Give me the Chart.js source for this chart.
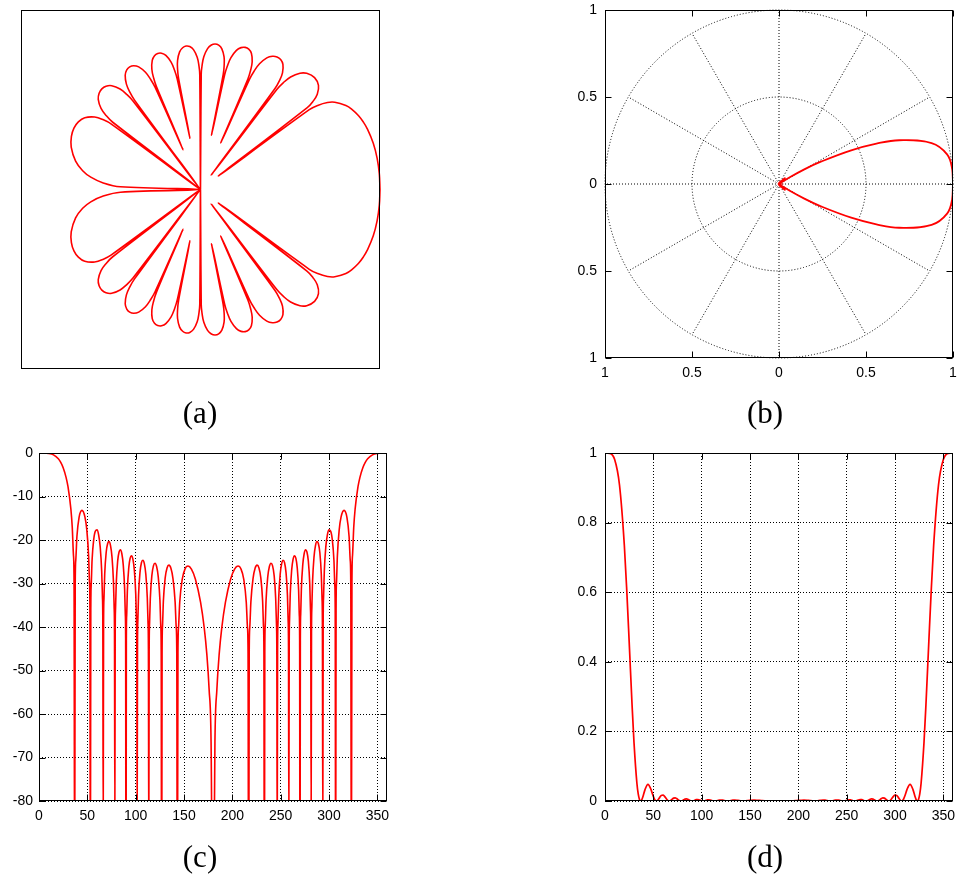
<!DOCTYPE html>
<html>
<head>
<meta charset="utf-8">
<title>Array pattern</title>
<script src="https://cdn.jsdelivr.net/npm/chart.js@4.4.1/dist/chart.umd.min.js"></script>
<style>
  html, body { margin: 0; background: #fff; }
  body { position: relative; width: 958px; height: 879px; overflow: hidden; }
  canvas { position: absolute; }
  .cap {
    position: absolute;
    width: 120px;
    text-align: center;
    font-family: "Liberation Serif", "DejaVu Serif", serif;
    font-size: 31px;
    line-height: 31px;
    color: #000;
  }
</style>
</head>
<body>
<canvas id="polarDb" width="400" height="400" style="left:0;top:0"></canvas>
<canvas id="polarLin" width="400" height="400" style="left:560px;top:0"></canvas>
<canvas id="cartDb" width="400" height="400" style="left:0;top:440px"></canvas>
<canvas id="cartLin" width="400" height="400" style="left:560px;top:440px"></canvas>
<div class="cap" style="left:140px;top:397px">(a)</div>
<div class="cap" style="left:705px;top:397px">(b)</div>
<div class="cap" style="left:140px;top:841px">(c)</div>
<div class="cap" style="left:705px;top:841px">(d)</div>
<script>
// pattern samples, angle in degrees (0..360), one row per lobe
const angleDeg = [
  0, 5, 10, 15, 20, 22.5, 25, 28, 30, 33, 34.41, 35.66, 36.27, 36.87,
  37.46, 38.05, 39.2, 41.41, 44.44, 47.55, 49.46, 51.32, 52.23, 52.68, 53.13,
  53.58, 54.02, 54.9, 56.63, 58.33, 60, 61.64, 63.26, 64.85, 65.64, 66.03, 66.42,
  66.81, 67.2, 67.98, 69.51, 71.03, 72.54, 74.04, 75.52, 77, 77.73, 78.1, 78.46,
  78.83, 79.19, 79.92, 81.37, 82.82, 84.26, 85.7, 87.13, 88.57, 89.28, 89.64, 90,
  90.36, 90.72, 91.43, 92.87, 94.3, 95.74, 97.18, 98.63, 100.08, 100.81, 101.17, 101.54,
  101.9, 102.27, 103, 104.48, 105.96, 107.46, 108.97, 110.49, 112.02, 112.8, 113.19, 113.58,
  113.97, 114.36, 115.15, 116.74, 118.36, 120, 121.67, 123.37, 125.1, 125.98, 126.42, 126.87,
  127.32, 127.77, 128.68, 130.54, 132.45, 134.43, 136.47, 138.59, 140.81, 141.95, 142.54, 143.13,
  143.73, 144.34, 145.59, 148.21, 151.04, 154.16, 157.67, 161.81, 167.16, 170.93, 173.59, 176, 178, 180,
  182, 184, 186.41, 189.07, 192.84, 198.19, 202.33, 205.84, 208.96, 211.79, 214.41, 215.66, 216.27, 216.87,
  217.46, 218.05, 219.19, 221.41, 223.53, 225.57, 227.55, 229.46, 231.32, 232.23, 232.68, 233.13,
  233.58, 234.02, 234.9, 236.63, 238.33, 240, 241.64, 243.26, 244.85, 245.64, 246.03, 246.42,
  246.81, 247.2, 247.98, 249.51, 251.03, 252.54, 254.04, 255.52, 257, 257.73, 258.1, 258.46,
  258.83, 259.19, 259.92, 261.37, 262.82, 264.26, 265.7, 267.13, 268.57, 269.28, 269.64, 270,
  270.36, 270.72, 271.43, 272.87, 274.3, 275.74, 277.18, 278.63, 280.08, 280.81, 281.17, 281.54,
  281.9, 282.27, 283, 284.48, 285.96, 287.46, 288.97, 290.49, 292.02, 292.8, 293.19, 293.58,
  293.97, 294.36, 295.15, 296.74, 298.36, 300, 301.67, 303.37, 305.1, 305.98, 306.42, 306.87,
  307.32, 307.77, 308.68, 310.54, 312.45, 315.56, 318.59, 320.8, 321.95, 322.54, 323.13,
  323.73, 324.34, 325.59, 327, 330, 332, 335, 337.5, 340, 345, 350, 355, 360
];

// normalised level in dB (nulls fall below the -80 floor of the axis)
const levelDb = [
  0, 0, -0.08, -0.42, -1.34, -2.17, -3.39, -5.59, -7.75, -12.94, -17.1, -23.55, -29.8, -105,
  -30.34, -24.63, -19.26, -14.84, -13.19, -14.75, -17.7, -23.62, -29.75, -35.86, -108,
  -36.12, -30.28, -24.67, -19.82, -17.94, -17.68, -18.77, -21.47, -27.16, -33.19, -39.25, -86,
  -39.41, -33.53, -27.83, -22.81, -20.79, -20.38, -21.35, -23.93, -29.51, -35.49, -41.52, -83,
  -41.63, -35.72, -29.97, -24.87, -22.76, -22.27, -23.16, -25.67, -31.18, -37.13, -43.14, -120,
  -43.22, -37.3, -31.52, -26.35, -24.18, -23.64, -24.47, -26.93, -32.39, -38.32, -44.32, -85,
  -44.38, -38.44, -32.64, -27.43, -25.22, -24.64, -25.43, -27.85, -33.27, -39.18, -45.17, -91,
  -45.21, -39.26, -33.44, -28.19, -25.95, -25.33, -26.09, -28.48, -33.87, -39.76, -45.74, -120,
  -45.77, -39.81, -33.98, -28.7, -26.42, -25.78, -26.51, -28.86, -34.22, -40.1, -46.08, -120,
  -46.09, -40.13, -34.28, -28.97, -26.67, -25.99, -26.7, -29.02, -34.36, -40.22, -46.19, -54.4, -66.4, -120,
  -66.4, -54.4, -46.19, -40.22, -34.36, -29.02, -26.7, -25.99, -26.67, -28.97, -34.28, -40.13, -46.09, -120,
  -46.08, -40.1, -34.22, -28.86, -26.51, -25.78, -26.42, -28.7, -33.98, -39.81, -45.77, -120,
  -45.74, -39.76, -33.87, -28.48, -26.09, -25.33, -25.95, -28.19, -33.44, -39.26, -45.21, -91,
  -45.17, -39.18, -33.27, -27.85, -25.43, -24.64, -25.22, -27.43, -32.64, -38.44, -44.38, -85,
  -44.32, -38.32, -32.39, -26.93, -24.47, -23.64, -24.18, -26.35, -31.52, -37.3, -43.22, -120,
  -43.14, -37.13, -31.18, -25.67, -23.16, -22.27, -22.76, -24.87, -29.97, -35.72, -41.63, -83,
  -41.52, -35.49, -29.51, -23.93, -21.35, -20.38, -20.79, -22.81, -27.83, -33.53, -39.41, -86,
  -39.25, -33.19, -27.16, -21.47, -18.77, -17.68, -17.94, -19.82, -24.67, -30.28, -36.12, -108,
  -35.86, -29.75, -23.62, -17.7, -14.75, -13.19, -14.84, -19.26, -24.63, -30.34, -105,
  -29.8, -23.55, -17.1, -12.94, -7.75, -5.59, -3.39, -2.17, -1.34, -0.42, -0.08, 0, 0
];

// normalised power, linear
const powerLin = [
  1, 0.999, 0.981, 0.908, 0.735, 0.606, 0.458, 0.276, 0.168, 0.051, 0.0195, 0.0044, 0.001, 0,
  0.0009, 0.0034, 0.0119, 0.0328, 0.048, 0.0335, 0.017, 0.0043, 0.0011, 0.0003, 0,
  0.0002, 0.0009, 0.0034, 0.0104, 0.0161, 0.0171, 0.0133, 0.0071, 0.0019, 0.0005, 0.0001, 0,
  0.0001, 0.0004, 0.0016, 0.0052, 0.0083, 0.0092, 0.0073, 0.004, 0.0011, 0.0003, 0.0001, 0,
  0.0001, 0.0003, 0.001, 0.0033, 0.0053, 0.0059, 0.0048, 0.0027, 0.0008, 0.0002, 0, 0,
  0, 0.0002, 0.0007, 0.0023, 0.0038, 0.0043, 0.0036, 0.002, 0.0006, 0.0001, 0, 0,
  0, 0.0001, 0.0005, 0.0018, 0.003, 0.0034, 0.0029, 0.0016, 0.0005, 0.0001, 0, 0,
  0, 0.0001, 0.0005, 0.0015, 0.0025, 0.0029, 0.0025, 0.0014, 0.0004, 0.0001, 0, 0,
  0, 0.0001, 0.0004, 0.0013, 0.0023, 0.0026, 0.0022, 0.0013, 0.0004, 0.0001, 0, 0,
  0, 0.0001, 0.0004, 0.0013, 0.0022, 0.0025, 0.0021, 0.0013, 0.0004, 0.0001, 0, 0, 0, 0,
  0, 0, 0, 0.0001, 0.0004, 0.0013, 0.0021, 0.0025, 0.0022, 0.0013, 0.0004, 0.0001, 0, 0,
  0, 0.0001, 0.0004, 0.0013, 0.0022, 0.0026, 0.0023, 0.0013, 0.0004, 0.0001, 0, 0,
  0, 0.0001, 0.0004, 0.0014, 0.0025, 0.0029, 0.0025, 0.0015, 0.0005, 0.0001, 0, 0,
  0, 0.0001, 0.0005, 0.0016, 0.0029, 0.0034, 0.003, 0.0018, 0.0005, 0.0001, 0, 0,
  0, 0.0001, 0.0006, 0.002, 0.0036, 0.0043, 0.0038, 0.0023, 0.0007, 0.0002, 0, 0,
  0, 0.0002, 0.0008, 0.0027, 0.0048, 0.0059, 0.0053, 0.0033, 0.001, 0.0003, 0.0001, 0,
  0.0001, 0.0003, 0.0011, 0.004, 0.0073, 0.0092, 0.0083, 0.0052, 0.0016, 0.0004, 0.0001, 0,
  0.0001, 0.0005, 0.0019, 0.0071, 0.0133, 0.0171, 0.0161, 0.0104, 0.0034, 0.0009, 0.0002, 0,
  0.0003, 0.0011, 0.0043, 0.017, 0.0335, 0.048, 0.0328, 0.0119, 0.0034, 0.0009, 0,
  0.001, 0.0044, 0.0195, 0.051, 0.168, 0.276, 0.458, 0.606, 0.735, 0.908, 0.981, 0.999, 1
];

const angleTicks = [0, 50, 100, 150, 200, 250, 300, 350];
const dbTicks = [-80, -70, -60, -50, -40, -30, -20, -10, 0];
const powerTicks = [0, 0.2, 0.4, 0.6, 0.8, 1];
const polarTicks = [-1, -0.5, 0, 0.5, 1];
const polarTickLabels = ["1", "0.5", "0", "0.5", "1"];
const polarRings = [0.5, 1];
const polarSpokes = [0, 30, 60, 90, 120, 150, 180, 210, 240, 270, 300, 330];
const dbFloor = -120; // level drawn at the centre of the dB polar plot

const RED = "#ff0000";

Chart.defaults.font.family = '"Liberation Sans", Arial, sans-serif';
Chart.defaults.font.size = 14;
Chart.defaults.color = "#000";

function toXY(values) {
    return angleDeg.map((a, i) => ({ x: a, y: values[i] }));
}

function toPolar(values, offset) {
    return angleDeg.map((a, i) => {
        const r = Math.max(0, values[i] - offset);
        const t = a * Math.PI / 180;
        return { x: r * Math.cos(t), y: r * Math.sin(t) };
    });
}

function fixTicks(list) {
    return function (scale) {
        scale.ticks = list.map(v => ({ value: v }));
    };
}

// fixed axis thickness; label overhang must not shrink the plot area
function fixSize(prop, size) {
    return function (scale) {
        scale[prop] = size;
        scale.paddingTop = 0;
        scale.paddingBottom = 0;
        scale.paddingLeft = 0;
        scale.paddingRight = 0;
    };
}

// box round the plot area, with short inward ticks on every side
const framePlugin = {
    id: "frame",
    afterDraw(chart, args, opts) {
        const ctx = chart.ctx;
        const a = chart.chartArea;
        const L = Math.round(a.left) + 0.5, R = Math.round(a.right) - 0.5;
        const T = Math.round(a.top) + 0.5, B = Math.round(a.bottom) - 0.5;
        ctx.save();
        ctx.setLineDash([]);
        ctx.strokeStyle = "#000";
        ctx.lineWidth = 1;
        if (opts.ticks) {
            const len = 6;
            const xs = chart.scales.x, ys = chart.scales.y;
            ctx.beginPath();
            xs.ticks.forEach(t => {
                const px = Math.round(xs.getPixelForValue(t.value)) + 0.5;
                ctx.moveTo(px, B); ctx.lineTo(px, B - len);
                ctx.moveTo(px, T); ctx.lineTo(px, T + len);
            });
            ys.ticks.forEach(t => {
                const py = Math.round(ys.getPixelForValue(t.value)) + 0.5;
                ctx.moveTo(L, py); ctx.lineTo(L + len, py);
                ctx.moveTo(R, py); ctx.lineTo(R - len, py);
            });
            ctx.stroke();
        }
        ctx.strokeRect(L, T, R - L, B - T);
        ctx.restore();
    }
};

// dotted circles and spokes of the linear polar plot
const polarGridPlugin = {
    id: "polarGrid",
    beforeDatasetsDraw(chart) {
        const ctx = chart.ctx;
        const xs = chart.scales.x, ys = chart.scales.y;
        const cx = xs.getPixelForValue(0), cy = ys.getPixelForValue(0);
        const unit = xs.getPixelForValue(1) - cx;
        const outer = Math.max(...polarRings) * unit;
        ctx.save();
        ctx.strokeStyle = "#000";
        ctx.lineWidth = 1;
        ctx.setLineDash([1, 2]);
        polarRings.forEach(r => {
            ctx.beginPath();
            ctx.arc(cx, cy, r * unit, 0, Math.PI * 2);
            ctx.stroke();
        });
        ctx.beginPath();
        polarSpokes.forEach(d => {
            const t = d * Math.PI / 180;
            ctx.moveTo(cx, cy);
            ctx.lineTo(cx + outer * Math.cos(t), cy - outer * Math.sin(t));
        });
        ctx.stroke();
        ctx.restore();
    }
};

const baseOptions = {
    responsive: false,
    animation: false,
    devicePixelRatio: 1,
    events: []
};

const dottedGrid = { color: "#000", lineWidth: 1, drawTicks: false };
const dottedBorder = { display: false, dash: [1, 2] };
const noPlugins = { legend: { display: false }, tooltip: { enabled: false } };

function lineSet(points, extra) {
    return Object.assign({
        data: points,
        showLine: true,
        borderColor: RED,
        backgroundColor: RED,
        borderWidth: 1.6,
        pointRadius: 0,
        fill: false
    }, extra);
}

// (a) level in dB on a polar grid
new Chart(document.getElementById("polarDb"), {
    type: "scatter",
    data: { datasets: [lineSet(toPolar(levelDb, dbFloor), { tension: 0.4, clip: 3 })] },
    options: Object.assign({}, baseOptions, {
        layout: { padding: { left: 21, top: 10, right: 20, bottom: 31 } },
        plugins: Object.assign({ frame: { ticks: false } }, noPlugins),
        scales: {
            x: { type: "linear", display: false, min: dbFloor, max: -dbFloor },
            y: { type: "linear", display: false, min: dbFloor, max: -dbFloor }
        }
    }),
    plugins: [framePlugin]
});

// (b) linear power on a polar grid
new Chart(document.getElementById("polarLin"), {
    type: "scatter",
    data: { datasets: [lineSet(toPolar(powerLin, 0), { tension: 0.4, borderWidth: 1.8 })] },
    options: Object.assign({}, baseOptions, {
        layout: { padding: { left: 0, top: 10, right: 7, bottom: 0 } },
        plugins: Object.assign({ frame: { ticks: true } }, noPlugins),
        scales: {
            x: {
                type: "linear", min: -1, max: 1,
                afterBuildTicks: fixTicks(polarTicks),
                afterFit: fixSize("height", 42),
                grid: { display: false, drawTicks: false },
                border: { display: false },
                ticks: { padding: 7, maxRotation: 0, autoSkip: false, callback: (v, i) => polarTickLabels[i] }
            },
            y: {
                type: "linear", min: -1, max: 1,
                afterBuildTicks: fixTicks(polarTicks),
                afterFit: fixSize("width", 45),
                grid: { display: false, drawTicks: false },
                border: { display: false },
                ticks: { padding: 8, autoSkip: false, callback: (v, i) => polarTickLabels[i] }
            }
        }
    }),
    plugins: [polarGridPlugin, framePlugin]
});

// (c) level in dB against angle
new Chart(document.getElementById("cartDb"), {
    type: "scatter",
    data: { datasets: [lineSet(toXY(levelDb), { cubicInterpolationMode: "monotone" })] },
    options: Object.assign({}, baseOptions, {
        layout: { padding: { left: 0, top: 13, right: 13, bottom: 0 } },
        plugins: Object.assign({ frame: { ticks: true } }, noPlugins),
        scales: {
            x: {
                type: "linear", min: 0, max: 360,
                afterBuildTicks: fixTicks(angleTicks),
                afterFit: fixSize("height", 39),
                grid: dottedGrid, border: dottedBorder,
                ticks: { padding: 7, maxRotation: 0, autoSkip: false }
            },
            y: {
                type: "linear", min: -80, max: 0,
                afterBuildTicks: fixTicks(dbTicks),
                afterFit: fixSize("width", 39),
                grid: dottedGrid, border: dottedBorder,
                ticks: { padding: 6, autoSkip: false }
            }
        }
    }),
    plugins: [framePlugin]
});

// (d) linear power against angle
new Chart(document.getElementById("cartLin"), {
    type: "scatter",
    data: { datasets: [lineSet(toXY(powerLin), { cubicInterpolationMode: "monotone", borderWidth: 1.7 })] },
    options: Object.assign({}, baseOptions, {
        layout: { padding: { left: 0, top: 13, right: 7, bottom: 0 } },
        plugins: Object.assign({ frame: { ticks: true } }, noPlugins),
        scales: {
            x: {
                type: "linear", min: 0, max: 360,
                afterBuildTicks: fixTicks(angleTicks),
                afterFit: fixSize("height", 39),
                grid: dottedGrid, border: dottedBorder,
                ticks: { padding: 7, maxRotation: 0, autoSkip: false }
            },
            y: {
                type: "linear", min: 0, max: 1,
                afterBuildTicks: fixTicks(powerTicks),
                afterFit: fixSize("width", 45),
                grid: dottedGrid, border: dottedBorder,
                ticks: { padding: 8, autoSkip: false, callback: v => String(v) }
            }
        }
    }),
    plugins: [framePlugin]
});
</script>
</body>
</html>
